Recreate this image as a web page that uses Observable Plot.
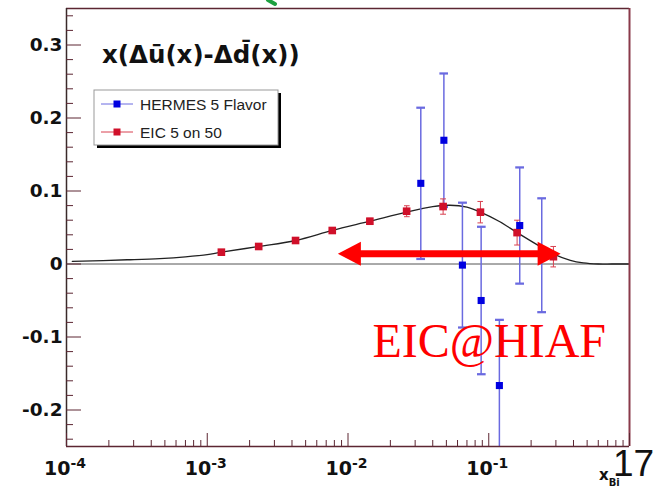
<!DOCTYPE html>
<html><head><meta charset="utf-8">
<script src="https://cdn.jsdelivr.net/npm/d3@7"></script>
<script src="https://cdn.jsdelivr.net/npm/@observablehq/plot@0.6"></script>
<style>body{margin:0;background:#fff;} #chart{width:659px;height:489px;}</style>
</head><body><div id="chart"></div>
<script>
// EIC 5 on 50 pseudo-data
const eicX = [0.00126, 0.00232, 0.00424, 0.00773, 0.0143, 0.0261, 0.0474, 0.0873, 0.159, 0.288];
const eicY = [0.0162, 0.0240, 0.0322, 0.0459, 0.0586, 0.0723, 0.0787, 0.0710, 0.0430, 0.0100];
const eicErr = [0.002, 0.002, 0.0025, 0.003, 0.004, 0.0075, 0.0105, 0.0147, 0.017, 0.014];
// HERMES 5 Flavor
const hermesX = [0.0329, 0.048, 0.065, 0.0883, 0.119, 0.166, 0.238];
const hermesY = [0.1105, 0.1695, -0.0015, -0.050, -0.1665, 0.0527, 0.012];
const hermesErr = [0.1036, 0.0915, 0.0855, 0.101, 0.090, 0.0796, 0.078];
// theory curve
const curveX = [1.1e-4, 2.7e-4, 4.6e-4, 7e-4, 1e-3, 1.26e-3, 2.32e-3, 4.24e-3, 7.73e-3, 0.0143, 0.0261, 0.04, 0.053, 0.07, 0.0873, 0.12, 0.159, 0.22, 0.29, 0.38, 0.47, 0.6, 0.75, 1.0];
const curveY = [0.0035, 0.0058, 0.0075, 0.0098, 0.0128, 0.0162, 0.0240, 0.0322, 0.0459, 0.0586, 0.0712, 0.0785, 0.0805, 0.0778, 0.0710, 0.0578, 0.0430, 0.0265, 0.0135, 0.0050, 0.0015, 0.0, 0.0, 0.0];
// EIC@HIAF reach arrow
const arrowX = [0.00847, 0.324];
const arrowY = [0.014];
const noteText = ["EIC@HIAF"];
const noteX = [0.01493];
const noteY = [-0.106];
// axes
const xMajor = [1e-4, 1e-3, 1e-2, 1e-1, 1];
const xLabelTicks = [1e-4, 1e-3, 1e-2, 1e-1];
const xLabelBase = ["10", "10", "10", "10"];
const xLabelExp = ["-4", "-3", "-2", "-1"];
const xMinor = [2e-4,3e-4,4e-4,5e-4,6e-4,7e-4,8e-4,9e-4,2e-3,3e-3,4e-3,5e-3,6e-3,7e-3,8e-3,9e-3,0.02,0.03,0.04,0.05,0.06,0.07,0.08,0.09,0.2,0.3,0.4,0.5,0.6,0.7,0.8,0.9];
const yMajor = [-0.2, -0.1, 0, 0.1, 0.2, 0.3];
const yLabels = ["-0.2", "-0.1", "0", "0.1", "0.2", "0.3"];
const yMinor = [-0.24,-0.22,-0.18,-0.16,-0.14,-0.12,-0.08,-0.06,-0.04,-0.02,0.02,0.04,0.06,0.08,0.12,0.14,0.16,0.18,0.22,0.24,0.26,0.28,0.32,0.34];
const titleText = "x(\u0394u\u0304(x)-\u0394d\u0304(x))";
const legendNames = ["HERMES 5 Flavor", "EIC 5 on 50"];
const legendColors = ["#0000e0", "#d0102a"];
const legendLineColors = ["#6a6ae0", "#d84050"];

const eic = eicX.map((x, i) => ({x, y: eicY[i], e: eicErr[i]}));
const hermes = hermesX.map((x, i) => ({x, y: hermesY[i], e: hermesErr[i]}));
const curve = curveX.map((x, i) => ({x, y: curveY[i]}));
const xLab = xLabelTicks.map((x, i) => ({x, base: xLabelBase[i], exp: xLabelExp[i]}));

const frameColor = "#5c2632";
const arrowHead = {draw(ctx) { ctx.moveTo(0, 0); ctx.lineTo(-23, -12); ctx.lineTo(-23, 12); ctx.closePath(); }};
const labelFont = {fontFamily: "DejaVu Sans", fontWeight: "bold", fill: "#111"};

const plot = Plot.plot({
  width: 659, height: 489,
  marginLeft: 66, marginRight: 30, marginTop: 8, marginBottom: 43,
  x: {type: "log", domain: [1e-4, 1], label: null},
  y: {domain: [-0.25, 0.35], label: null},
  style: {background: "white", overflow: "visible"},
  marks: [
    Plot.ruleY([0], {stroke: "#555", strokeWidth: 1}),
    Plot.line(curve, {x: "x", y: "y", curve: "catmull-rom", stroke: "#222", strokeWidth: 1.3}),
    Plot.link(hermes, {x1: "x", x2: "x", y1: d => d.y - d.e, y2: d => d.y + d.e, stroke: "#6a6ae0", strokeWidth: 1.5, markerStart: "tick", markerEnd: "tick", clip: true}),
    Plot.link(eic, {x1: "x", x2: "x", y1: d => d.y - d.e, y2: d => d.y + d.e, stroke: "#d84050", strokeWidth: 1, markerStart: "tick", markerEnd: "tick"}),
    Plot.dot(eic, {x: "x", y: "y", symbol: "square", r: 4.3, fill: "#d0102a", stroke: "none"}),
    Plot.dot(hermes, {x: "x", y: "y", symbol: "square", r: 4, fill: "#0000e0", stroke: "none"}),
    Plot.ruleY(arrowY, {x1: arrowX[0], x2: arrowX[1], insetLeft: 15, insetRight: 15, stroke: "#ff0000", strokeWidth: 7}),
    Plot.dot([arrowX[1]], {x: d => d, y: arrowY[0], symbol: arrowHead, fill: "#ff0000", stroke: "none"}),
    Plot.dot([arrowX[0]], {x: d => d, y: arrowY[0], symbol: arrowHead, rotate: 180, fill: "#ff0000", stroke: "none"}),
    Plot.text(noteText, {x: noteX, y: noteY, text: d => d, textAnchor: "start", fontFamily: "Liberation Serif", fontSize: 48, fill: "#ff0000"}),
    // frame
    Plot.ruleY([-0.25, 0.35], {stroke: frameColor, strokeWidth: 1.5}),
    Plot.ruleX([1e-4], {stroke: "#3a2a2a", strokeWidth: 1.5}),
    Plot.ruleX([1], {stroke: "#8a3a4a", strokeWidth: 2}),
    // ticks
    Plot.axisX(xMajor, {tickSize: -13, text: null, stroke: frameColor}),
    Plot.axisX(xMinor, {tickSize: -6, text: null, stroke: frameColor}),
    Plot.axisY(yMajor, {tickSize: -15, text: null, stroke: frameColor}),
    Plot.axisY(yMinor, {tickSize: -7, text: null, stroke: frameColor}),
    // x tick labels: 10 with superscript exponent
    Plot.text(xLab, {x: "x", text: "base", frameAnchor: "bottom", lineAnchor: "top", textAnchor: "end", dx: 4, dy: 15, fontSize: 19, ...labelFont}),
    Plot.text(xLab, {x: "x", text: "exp", frameAnchor: "bottom", lineAnchor: "top", textAnchor: "start", dx: 4, dy: 12, fontSize: 14, ...labelFont}),
    Plot.axisY(yMajor, {tickSize: 0, tickPadding: 4, tickFormat: d => yLabels[yMajor.indexOf(d)], fontSize: 18.5, ...labelFont})
  ]
});
document.getElementById("chart").appendChild(plot);

const svg = d3.select(plot);
// title
svg.append("text").attr("x", 102).attr("y", 63).attr("text-anchor", "start")
  .attr("font-family", "DejaVu Sans").attr("font-weight", "bold").attr("font-size", 24.5).attr("fill", "#111")
  .text(titleText);
// legend
const lg = svg.append("g").attr("text-anchor", "start");
lg.append("rect").attr("x", 97).attr("y", 93).attr("width", 184).attr("height", 55).attr("fill", "#000");
lg.append("rect").attr("x", 94).attr("y", 90).attr("width", 184).attr("height", 55).attr("fill", "#fff").attr("stroke", "#999").attr("stroke-width", 1);
legendNames.forEach((name, i) => {
  const cy = 104 + i * 28;
  lg.append("line").attr("x1", 101).attr("x2", 133).attr("y1", cy).attr("y2", cy).attr("stroke", legendLineColors[i]).attr("stroke-width", 1);
  lg.append("rect").attr("x", 113.5).attr("y", cy - 3.5).attr("width", 7).attr("height", 7).attr("fill", legendColors[i]);
  lg.append("text").attr("x", 140).attr("y", cy + 5.5).attr("font-family", "Liberation Sans").attr("font-size", 15.5).attr("fill", "#222").text(name);
});
// x axis title and slide number
const xt = svg.append("text").attr("x", 599).attr("y", 480).attr("text-anchor", "start").attr("font-family", "DejaVu Sans").attr("font-weight", "bold").attr("font-size", 15).attr("fill", "#111");
xt.append("tspan").text("x");
xt.append("tspan").attr("dy", 6).attr("font-size", 10).text("Bi");
svg.append("text").attr("x", 613).attr("y", 476).attr("text-anchor", "start").attr("font-family", "Liberation Sans").attr("font-size", 37).attr("fill", "#111").text("17");
// green fragment at top
svg.append("path").attr("d", "M268,0 L275,4").attr("stroke", "#1ea040").attr("stroke-width", 4).attr("stroke-linecap", "round");
</script></body></html>
